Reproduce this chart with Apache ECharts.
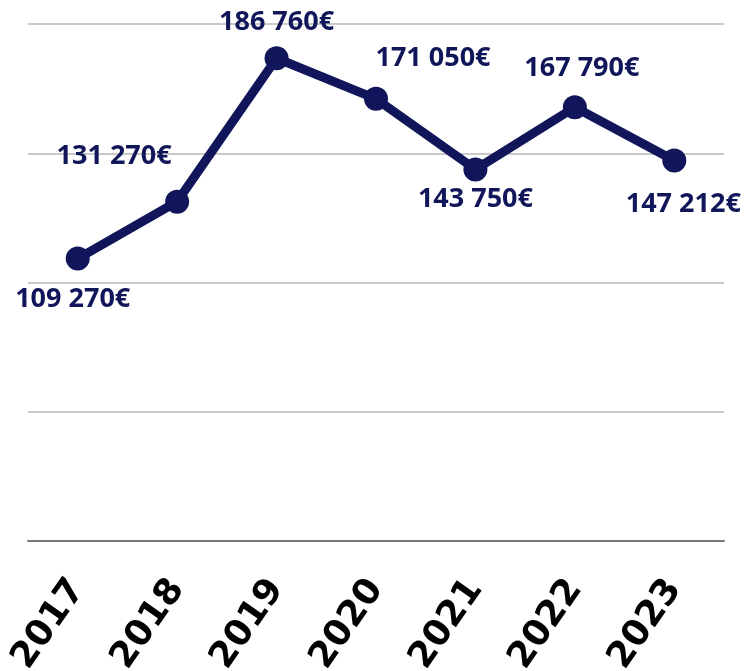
<!DOCTYPE html>
<html>
<head>
<meta charset="utf-8">
<script src="https://cdn.jsdelivr.net/npm/echarts@6/dist/echarts.min.js"></script>
<style>html,body{margin:0;padding:0;background:#fff;}#c{width:748px;height:671px;}</style>
</head>
<body>
<div id="c"></div>
<script>
var years = ['2017','2018','2019','2020','2021','2022','2023'];
var values = [109270, 131270, 186760, 171050, 143750, 167790, 147212];
var valueLabels = ['109 270€','131 270€','186 760€','171 050€','143 750€','167 790€','147 212€'];
var labelOffsets = [[-5,41],[-63,-45],[0,-36],[57,-41],[0,30],[7,-39],[9,44]];

var chart = echarts.init(document.getElementById('c'), null, {renderer:'canvas'});
chart.setOption({
  animation:false,
  grid:{left:28, right:24, top:24, bottom:130, containLabel:false, outerBoundsMode:'none'},
  xAxis:{
    type:'category', data:years, boundaryGap:true,
    axisLine:{lineStyle:{color:'#777777', width:2}},
    axisTick:{show:false},
    axisLabel:{rotate:55, margin:42, color:'#000', fontSize:36, fontWeight:'bold', fontFamily:'DejaVu Sans', interval:0}
  },
  yAxis:{
    type:'value', min:0, max:200000, interval:50000,
    axisLabel:{show:false}, axisLine:{show:false}, axisTick:{show:false},
    splitLine:{lineStyle:{color:'#c9c9c9', width:2}}
  },
  series:[{
    type:'line', data:values.map(function(v,i){
      return {value:v, label:{offset:labelOffsets[i]}};
    }),
    symbol:'circle', symbolSize:24,
    lineStyle:{color:'#11155a', width:9},
    itemStyle:{color:'#11155a'},
    label:{show:true, position:'inside', color:'#11155a', fontSize:27, fontWeight:'bold', fontFamily:'Open Sans',
      formatter:function(p){return valueLabels[p.dataIndex];}}
  }]
});
</script>
</body>
</html>
